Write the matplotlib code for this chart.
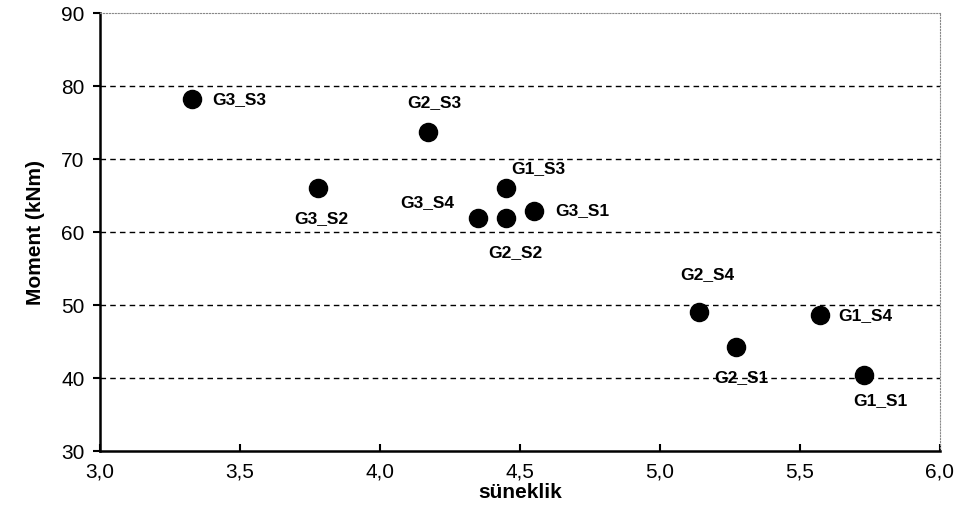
import matplotlib
matplotlib.use("Agg")
import matplotlib.pyplot as plt

plt.rcParams['font.family'] = ['Liberation Sans', 'DejaVu Sans']

# data
names = ['G3_S3', 'G3_S2', 'G2_S3', 'G1_S3', 'G3_S4', 'G2_S2',
         'G3_S1', 'G2_S4', 'G2_S1', 'G1_S4', 'G1_S1']
suneklik = [3.33, 3.78, 4.17, 4.45, 4.35, 4.45, 4.55, 5.14, 5.27, 5.57, 5.73]
moment = [78.2, 66.0, 73.7, 66.0, 62.0, 61.9, 62.9, 49.0, 44.2, 48.6, 40.5]

# label offsets in pixels (dx, dy) and alignment
offsets = [(20, 0, 'left'), (3, -30, 'center'), (7, 30, 'center'),
           (32, 20, 'center'), (-51, 15, 'center'), (9, -34, 'center'),
           (21, 0, 'left'), (8, 38, 'center'), (6, -30, 'center'),
           (19, 0, 'left'), (16, -26, 'center')]

fig = plt.figure(figsize=(9.66, 5.24), dpi=100)
ax = fig.add_axes([0.1035, 0.139, 0.8695, 0.836])

ax.scatter(suneklik, moment, s=170, color='black', zorder=3)
for n, x, y, (dx, dy, ha) in zip(names, suneklik, moment, offsets):
    ax.annotate(n, (x, y), xytext=(dx, dy), textcoords='offset pixels',
                ha=ha, va='center', fontsize=12.5, fontweight='bold')

ax.set_xlim(3.0, 6.0)
ax.set_ylim(30, 90)
ax.set_xticks([3.0, 3.5, 4.0, 4.5, 5.0, 5.5, 6.0])
ax.set_xticklabels(['3,0', '3,5', '4,0', '4,5', '5,0', '5,5', '6,0'])
ax.set_yticks([30, 40, 50, 60, 70, 80, 90])
ax.tick_params(labelsize=15, direction='out', length=5, width=1.5)
ax.tick_params(axis='x', direction='in', pad=8)
ax.tick_params(axis='y', pad=6)

for yv in [40, 50, 60, 70, 80]:
    ax.axhline(yv, color='black', linestyle=(0, (4, 3)), linewidth=1, zorder=1)

ax.spines['left'].set_linewidth(1.8)
ax.spines['bottom'].set_linewidth(1.8)
ax.spines['top'].set_color('#888888')
ax.spines['top'].set_linestyle(':')
ax.spines['right'].set_color('#888888')
ax.spines['right'].set_linestyle(':')

ax.set_xlabel('süneklik', fontsize=15, fontweight='bold', labelpad=1)
ax.set_ylabel('Moment (kNm)', fontsize=15, fontweight='bold', labelpad=12)

fig.savefig('out.png', dpi=100)
